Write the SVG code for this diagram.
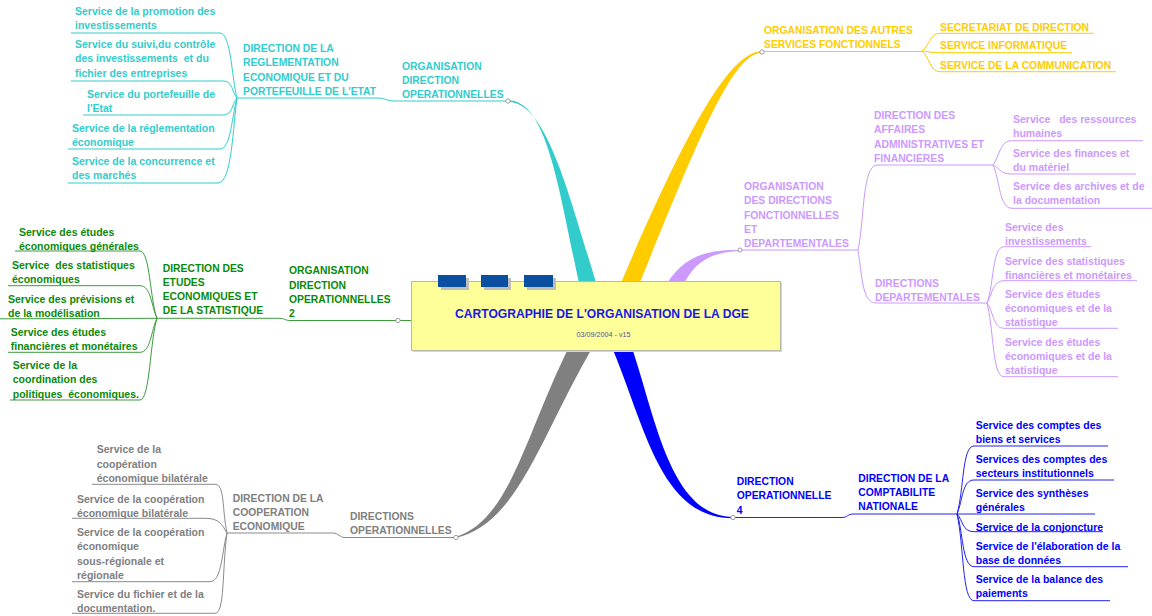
<svg xmlns="http://www.w3.org/2000/svg" width="1152" height="616" viewBox="0 0 1152 616">
<style>
text{font-family:"Liberation Sans",Arial,sans-serif;font-weight:bold}
.cap{font-size:11.5px}
.svc{font-size:11.2px}
.cy{fill:#33CCCC}.yl{fill:#FFCC00}.pu{fill:#CC99FF}.gr{fill:#0A8A0A}.gy{fill:#808080}.bl{fill:#0000FF}
.l{fill:none;stroke-width:1}
.lcy{stroke:#33CCCC}.lyl{stroke:#FFCC00}.lpu{stroke:#CC99FF}.lgr{stroke:#3C9C3C}.lgy{stroke:#8A8A8A}.lbl{stroke:#2222EE}
.dot{fill:#fff;stroke:#888;stroke-width:.8}
.tab{fill:#0B50A0}
.sh{fill:#BDBDBD}
</style>
<rect width="1152" height="616" fill="#fff"/>
<g id="connectors">
<path d="M508,100.3 C549,100 560,200 581,292 L599,292 C570,200 548,102 508,101.8 Z" fill="#33CCCC"/>
<path d="M617,292 C682,140 728,51 762,51.3 L762,52.7 C732,53 698,140 636,292 Z" fill="#FFCC00"/>
<path d="M662,292 C680,258 702,249.5 740,250 L740,251 C708,252 692,264 680,292 Z" fill="#CC99FF"/>
<path d="M570,345 C525,435 510,520 456,536.8 L456,537.8 C518,524 541,435 594,345 Z" fill="#808080"/>
<path d="M611,345 C645,425 660,518.8 733,518.2 L733,517 C670,516 656,418 631,345 Z" fill="#0000FF"/>
<path class="l lcy" d="M508,101 H395 C386,101 386,98 377,98 H237"/>
<path class="l lcy" d="M237,98 C232,80 231,33 220,33 H71"/>
<path class="l lcy" d="M237,98 C232,92 232,81 224,81 H71"/>
<path class="l lcy" d="M237,98 C232,104 232,115 224,115 H83"/>
<path class="l lcy" d="M237,98 C232,115 231,149 220,149 H68"/>
<path class="l lcy" d="M237,98 C233,125 232,183 218,183 H68"/>
<path class="l lyl" d="M762,51.5 H922"/>
<path class="l lyl" d="M922,51 C930,45 930,33.3 940,33.3 H1094"/>
<path class="l lyl" d="M922,51 C928,51 930,52.7 936,52.7 H1072"/>
<path class="l lyl" d="M922,51 C930,58 930,71.7 940,71.7 H1116"/>
<path class="l lpu" d="M740,250 H858"/>
<path class="l lpu" d="M858,250 C864,225 862,165 877,165 H993"/>
<path class="l lpu" d="M993,165 C1000,155 1000,140.7 1012,140.7 H1143"/>
<path class="l lpu" d="M993,165 C1000,168 1000,174 1012,174 H1136"/>
<path class="l lpu" d="M993,165 C1000,180 999,208.3 1012,208.3 H1152"/>
<path class="l lpu" d="M858,250 C862,275 862,303 876,303 H987"/>
<path class="l lpu" d="M987,303 C994,285 992,246.7 1004,246.7 H1091"/>
<path class="l lpu" d="M987,303 C993,292 993,280.7 1004,280.7 H1137"/>
<path class="l lpu" d="M987,303 C993,310 993,328.3 1004,328.3 H1118"/>
<path class="l lpu" d="M987,303 C994,330 992,376.7 1004,376.7 H1118"/>
<path class="l lgr" d="M411,320.5 H290 C285,320.5 285,318.3 279,318.3 H157"/>
<path class="l lgr" d="M157,318.3 C150,300 150,251 140,251 H15"/>
<path class="l lgr" d="M157,318.3 C151,305 151,285.7 140,285.7 H8"/>
<path class="l lgr" d="M157,318.3 L0,318.8"/>
<path class="l lgr" d="M157,318.3 C151,330 151,352.3 140,352.3 H8"/>
<path class="l lgr" d="M157,318.3 C150,340 150,400 140,400 H10"/>
<path class="l lgy" d="M456,537.5 H345 C339,537.5 339,533 333,533 H227"/>
<path class="l lgy" d="M227,533 C222,510 225,484.3 215,484.3 H92"/>
<path class="l lgy" d="M227,533 C222,525 220,518.3 205,518.3 H72"/>
<path class="l lgy" d="M227,533 C222,550 222,581.7 210,581.7 H72"/>
<path class="l lgy" d="M227,533 C222,570 225,613.3 215,613.3 H72"/>
<path class="l lbl" d="M733,517.5 H842 C848,517.5 847,514 854,514 H957"/>
<path class="l lbl" d="M957,514 C964,490 962,446 974,446 H1108"/>
<path class="l lbl" d="M957,514 C963,500 962,480 974,480 H1114"/>
<path class="l lbl" d="M957,514 H1095"/>
<path class="l lbl" d="M957,514 C963,520 962,531.7 974,531.7 H1103"/>
<path class="l lbl" d="M957,514 C963,530 962,566.7 974,566.7 H1128"/>
<path class="l lbl" d="M957,514 C964,545 962,600.7 974,600.7 H1110"/>
<circle class="dot" cx="508" cy="101" r="2.2"/>
<circle class="dot" cx="762" cy="52" r="2.2"/>
<circle class="dot" cx="740" cy="250" r="2"/>
<circle class="dot" cx="398" cy="320.5" r="2.2"/>
<circle class="dot" cx="456" cy="537.5" r="2.2"/>
<circle class="dot" cx="733" cy="517.5" r="2.2"/>
</g>
<g id="root">
<rect x="413" y="283" width="369" height="69" fill="#D8D8C0"/>
<rect x="411.5" y="281.5" width="369" height="69" fill="#FFFF99" stroke="#B8B8A8" stroke-width="1"/>
<rect class="sh" x="441" y="278" width="28" height="12"/>
<rect class="tab" x="438" y="275" width="28" height="12"/>
<rect class="sh" x="484" y="278" width="27" height="12"/>
<rect class="tab" x="481" y="275" width="27" height="12"/>
<rect class="sh" x="527" y="278" width="29" height="12"/>
<rect class="tab" x="524" y="275" width="29" height="12"/>
<text transform="translate(455,318.3) scale(.97,1)" style="font-size:12.5px" fill="#1818E8">CARTOGRAPHIE DE L'ORGANISATION DE LA DGE</text>
<text x="603.5" y="337" text-anchor="middle" style="font-size:7.2px;font-weight:normal" fill="#5050A0">03/09/2004 - v15</text>
</g>
<g id="org-direction-operationnelles">
<text class="cap cy" transform="translate(402,69.5) scale(.9,1)"><tspan x="0">ORGANISATION</tspan><tspan x="0" dy="14.3">DIRECTION</tspan><tspan x="0" dy="14.3">OPERATIONNELLES</tspan></text>
</g>
<g id="dir-reglementation">
<text class="cap cy" transform="translate(243,52) scale(.9,1)"><tspan x="0">DIRECTION DE LA</tspan><tspan x="0" dy="14.3">REGLEMENTATION</tspan><tspan x="0" dy="14.3">ECONOMIQUE ET DU</tspan><tspan x="0" dy="14.3">PORTEFEUILLE DE L'ETAT</tspan></text>
</g>
<g id="svc-promotion"><text class="svc cy" transform="translate(75,15) scale(.94,1)"><tspan x="0">Service de la promotion des</tspan><tspan x="0" dy="14.2">investissements</tspan></text></g>
<g id="svc-suivi"><text class="svc cy" xml:space="preserve" transform="translate(75,48.3) scale(.94,1)"><tspan x="0">Service du suivi,du contrôle</tspan><tspan x="0" dy="14.2">des investissements  et du</tspan><tspan x="0" dy="14.2">fichier des entreprises</tspan></text></g>
<g id="svc-portefeuille"><text class="svc cy" transform="translate(87,97.5) scale(.94,1)"><tspan x="0">Service du portefeuille de</tspan><tspan x="0" dy="14.2">l'Etat</tspan></text></g>
<g id="svc-reglementation"><text class="svc cy" transform="translate(72,131.5) scale(.94,1)"><tspan x="0">Service de la réglementation</tspan><tspan x="0" dy="14.2">économique</tspan></text></g>
<g id="svc-concurrence"><text class="svc cy" transform="translate(72,165) scale(.94,1)"><tspan x="0">Service de la concurrence et</tspan><tspan x="0" dy="14.2">des marchés</tspan></text></g>
<g id="org-autres-services">
<text class="cap yl" transform="translate(764,33.5) scale(.9,1)"><tspan x="0">ORGANISATION DES AUTRES</tspan><tspan x="0" dy="14.3">SERVICES FONCTIONNELS</tspan></text>
</g>
<g id="secretariat"><text class="cap yl" transform="translate(940,30.5) scale(.9,1)">SECRETARIAT DE DIRECTION</text></g>
<g id="informatique"><text class="cap yl" transform="translate(940,49.2) scale(.9,1)">SERVICE INFORMATIQUE</text></g>
<g id="communication"><text class="cap yl" transform="translate(940,69) scale(.9,1)">SERVICE DE LA COMMUNICATION</text></g>
<g id="org-directions-fonctionnelles">
<text class="cap pu" transform="translate(744,190) scale(.9,1)"><tspan x="0">ORGANISATION</tspan><tspan x="0" dy="14.3">DES DIRECTIONS</tspan><tspan x="0" dy="14.3">FONCTIONNELLES</tspan><tspan x="0" dy="14.3">ET</tspan><tspan x="0" dy="14.3">DEPARTEMENTALES</tspan></text>
</g>
<g id="daaf">
<text class="cap pu" transform="translate(874,119) scale(.9,1)"><tspan x="0">DIRECTION DES</tspan><tspan x="0" dy="14.3">AFFAIRES</tspan><tspan x="0" dy="14.3">ADMINISTRATIVES ET</tspan><tspan x="0" dy="14.3">FINANCIERES</tspan></text>
</g>
<g id="svc-rh"><text class="svc pu" xml:space="preserve" transform="translate(1013,123.3) scale(.94,1)"><tspan x="0">Service   des ressources</tspan><tspan x="0" dy="14.2">humaines</tspan></text></g>
<g id="svc-finances"><text class="svc pu" transform="translate(1013,157.3) scale(.94,1)"><tspan x="0">Service des finances et</tspan><tspan x="0" dy="14.2">du matériel</tspan></text></g>
<g id="svc-archives"><text class="svc pu" transform="translate(1013,190) scale(.94,1)"><tspan x="0">Service des archives et de</tspan><tspan x="0" dy="14.2">la documentation</tspan></text></g>
<g id="directions-departementales">
<text class="cap pu" transform="translate(875,286.5) scale(.9,1)"><tspan x="0">DIRECTIONS</tspan><tspan x="0" dy="14.3">DEPARTEMENTALES</tspan></text>
</g>
<g id="dd-investissements"><text class="svc pu" transform="translate(1005,230.5) scale(.94,1)"><tspan x="0">Service des</tspan><tspan x="0" dy="14.2">investissements</tspan></text></g>
<g id="dd-statistiques"><text class="svc pu" transform="translate(1005,265) scale(.94,1)"><tspan x="0">Service des statistiques</tspan><tspan x="0" dy="14.2">financières et monétaires</tspan></text></g>
<g id="dd-etudes-1"><text class="svc pu" transform="translate(1005,298) scale(.94,1)"><tspan x="0">Service des études</tspan><tspan x="0" dy="14.2">économiques et de la</tspan><tspan x="0" dy="14.2">statistique</tspan></text></g>
<g id="dd-etudes-2"><text class="svc pu" transform="translate(1005,345.5) scale(.94,1)"><tspan x="0">Service des études</tspan><tspan x="0" dy="14.2">économiques et de la</tspan><tspan x="0" dy="14.2">statistique</tspan></text></g>
<g id="org-direction-operationnelles-2">
<text class="cap gr" transform="translate(289,274.3) scale(.9,1)"><tspan x="0">ORGANISATION</tspan><tspan x="0" dy="14.3">DIRECTION</tspan><tspan x="0" dy="14.3">OPERATIONNELLES</tspan><tspan x="0" dy="14.3">2</tspan></text>
</g>
<g id="dees">
<text class="cap gr" transform="translate(162.7,271.5) scale(.9,1)"><tspan x="0">DIRECTION DES</tspan><tspan x="0" dy="14.3">ETUDES</tspan><tspan x="0" dy="14.3">ECONOMIQUES ET</tspan><tspan x="0" dy="14.3">DE LA STATISTIQUE</tspan></text>
</g>
<g id="svc-etudes-generales"><text class="svc gr" transform="translate(19,235.5) scale(.94,1)"><tspan x="0">Service des études</tspan><tspan x="0" dy="14.2">économiques générales</tspan></text></g>
<g id="svc-statistiques-eco"><text class="svc gr" xml:space="preserve" transform="translate(12,269) scale(.94,1)"><tspan x="0">Service  des statistiques</tspan><tspan x="0" dy="14.2">économiques</tspan></text></g>
<g id="svc-previsions"><text class="svc gr" transform="translate(8,302.5) scale(.94,1)"><tspan x="0">Service des prévisions et</tspan><tspan x="0" dy="14.2">de la modélisation</tspan></text></g>
<g id="svc-etudes-financieres"><text class="svc gr" transform="translate(10.7,336) scale(.94,1)"><tspan x="0">Service des études</tspan><tspan x="0" dy="14.2">financières et monétaires</tspan></text></g>
<g id="svc-coordination"><text class="svc gr" xml:space="preserve" transform="translate(12.7,369) scale(.94,1)"><tspan x="0">Service de la</tspan><tspan x="0" dy="14.3">coordination des</tspan><tspan x="0" dy="14.3">politiques  économiques.</tspan></text></g>
<g id="directions-operationnelles">
<text class="cap gy" transform="translate(350,520) scale(.9,1)"><tspan x="0">DIRECTIONS</tspan><tspan x="0" dy="14.3">OPERATIONNELLES</tspan></text>
</g>
<g id="dce">
<text class="cap gy" transform="translate(232.7,501.5) scale(.9,1)"><tspan x="0">DIRECTION DE LA</tspan><tspan x="0" dy="14.3">COOPERATION</tspan><tspan x="0" dy="14.3">ECONOMIQUE</tspan></text>
</g>
<g id="svc-coop-1"><text class="svc gy" transform="translate(96.7,453.3) scale(.94,1)"><tspan x="0">Service de la</tspan><tspan x="0" dy="14.3">coopération</tspan><tspan x="0" dy="14.3">économique bilatérale</tspan></text></g>
<g id="svc-coop-2"><text class="svc gy" transform="translate(77,502.5) scale(.94,1)"><tspan x="0">Service de la coopération</tspan><tspan x="0" dy="14.3">économique bilatérale</tspan></text></g>
<g id="svc-coop-3"><text class="svc gy" transform="translate(77,536) scale(.94,1)"><tspan x="0">Service de la coopération</tspan><tspan x="0" dy="14.3">économique</tspan><tspan x="0" dy="14.3">sous-régionale et</tspan><tspan x="0" dy="14.3">régionale</tspan></text></g>
<g id="svc-fichier"><text class="svc gy" transform="translate(77,597.5) scale(.94,1)"><tspan x="0">Service du fichier et de la</tspan><tspan x="0" dy="14.3">documentation.</tspan></text></g>
<g id="direction-operationnelle-4">
<text class="cap bl" transform="translate(736.7,485) scale(.9,1)"><tspan x="0">DIRECTION</tspan><tspan x="0" dy="14.3">OPERATIONNELLE</tspan><tspan x="0" dy="14.3">4</tspan></text>
</g>
<g id="dcn">
<text class="cap bl" transform="translate(858.3,481.5) scale(.9,1)"><tspan x="0">DIRECTION DE LA</tspan><tspan x="0" dy="14.3">COMPTABILITE</tspan><tspan x="0" dy="14.3">NATIONALE</tspan></text>
</g>
<g id="svc-comptes-biens"><text class="svc bl" transform="translate(975.7,429) scale(.94,1)"><tspan x="0">Service des comptes des</tspan><tspan x="0" dy="14.2">biens et services</tspan></text></g>
<g id="svc-comptes-secteurs"><text class="svc bl" transform="translate(975.7,462.5) scale(.94,1)"><tspan x="0">Services des comptes des</tspan><tspan x="0" dy="14.2">secteurs institutionnels</tspan></text></g>
<g id="svc-syntheses"><text class="svc bl" transform="translate(975.7,496.5) scale(.94,1)"><tspan x="0">Service des synthèses</tspan><tspan x="0" dy="14.2">générales</tspan></text></g>
<g id="svc-conjoncture"><text class="svc bl" transform="translate(975.7,530.5) scale(.94,1)">Service de la conjoncture</text></g>
<g id="svc-base-donnees"><text class="svc bl" transform="translate(975.7,550) scale(.94,1)"><tspan x="0">Service de l'élaboration de la</tspan><tspan x="0" dy="14.2">base de données</tspan></text></g>
<g id="svc-balance"><text class="svc bl" transform="translate(975.7,583.3) scale(.94,1)"><tspan x="0">Service de la balance des</tspan><tspan x="0" dy="14.2">paiements</tspan></text></g>
</svg>
